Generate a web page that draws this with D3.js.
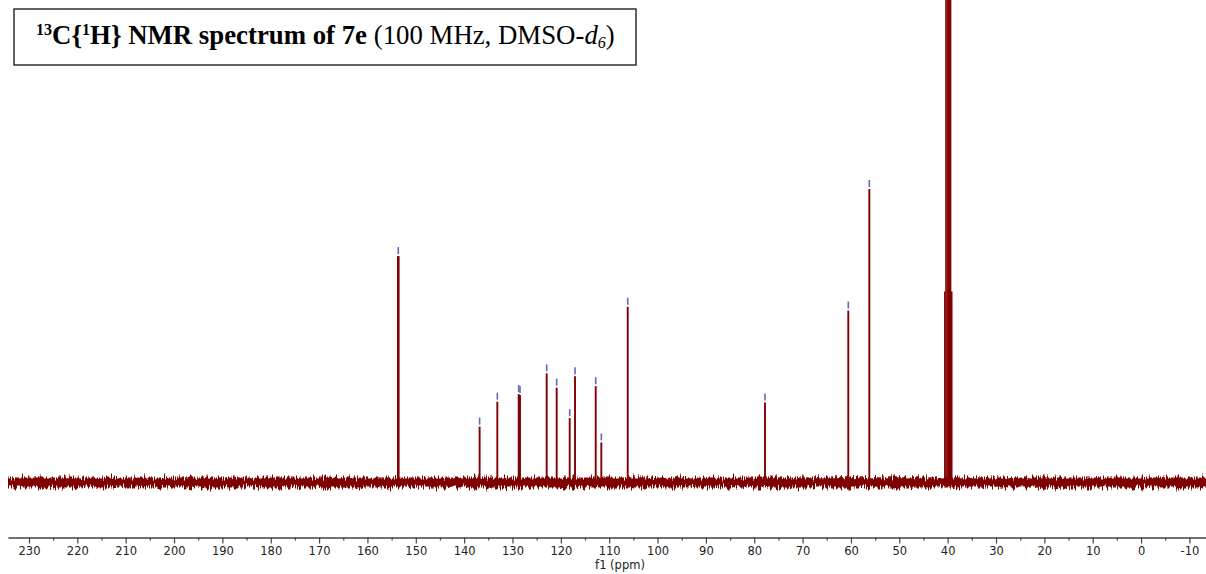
<!DOCTYPE html>
<html>
<head>
<meta charset="utf-8">
<script src="https://cdn.jsdelivr.net/npm/d3@7"></script>
<style>
  html, body { margin: 0; padding: 0; background: #fff; }
  svg { display: block; }
</style>
</head>
<body>
<svg id="chart" width="1206" height="574"></svg>
<script>
// ---- data ----
const peakPpm = [153.62, 136.8, 133.14, 128.72, 128.45, 122.93, 120.86, 118.17, 117.07, 112.79, 111.63, 106.17, 77.78, 60.55, 56.2];
const peakIntensity = [77.1, 18.9, 27.4, 30.0, 29.7, 37.1, 32.2, 21.8, 36.1, 32.7, 13.5, 59.8, 27.1, 58.5, 100];
const solventPpm = [40.59, 40.35, 40.11, 39.87, 39.63, 39.39, 39.15];
const solventIntensity = [65, 195, 390, 455, 390, 195, 65];
const noisePpm = [234.34, 180, 120, 60, 0, -13.43];
const noiseLow = [-1.9, -1.9, -1.9, -1.9, -1.9, -1.9];
const noiseHigh = [1.5, 1.5, 1.5, 1.6, 1.5, 1.5];
const majorTicks = [230, 220, 210, 200, 190, 180, 170, 160, 150, 140, 130, 120, 110, 100, 90, 80, 70, 60, 50, 40, 30, 20, 10, 0, -10];
const minorTicks = [225, 215, 205, 195, 185, 175, 165, 155, 145, 135, 125, 115, 105, 95, 85, 75, 65, 55, 45, 35, 25, 15, 5, -5];
const axisTitle = "f1 (ppm)";

// ---- layout ----
const svg = d3.select("#chart");
const x = d3.scaleLinear().domain([234.34, -13.43]).range([8, 1206]);
const y = d3.scaleLinear().domain([0, 100]).range([482, 189]);
const red = "#800000";
const markerBlue = "#6666c0";

// noise texture filter (styling only)
const defs = svg.append("defs");
const f = defs.append("filter").attr("id", "jag")
  .attr("x", "-1%").attr("y", "-300%").attr("width", "102%").attr("height", "700%")
  .attr("color-interpolation-filters", "sRGB");
f.append("feTurbulence").attr("type", "fractalNoise").attr("baseFrequency", "0.9 0.05")
  .attr("numOctaves", 2).attr("seed", 7).attr("result", "t");
f.append("feColorMatrix").attr("in", "t").attr("type", "matrix")
  .attr("values", "1 0 0 0 0  0 0 0 0 0.5  0 0 0 0 0  0 0 0 0 1").attr("result", "m");
f.append("feDisplacementMap").attr("in", "SourceGraphic").attr("in2", "m")
  .attr("scale", 13).attr("xChannelSelector", "G").attr("yChannelSelector", "R");

// baseline noise band
const noiseData = noisePpm.map((p, i) => ({p, lo: noiseLow[i], hi: noiseHigh[i]}));
svg.append("path")
  .datum(noiseData)
  .attr("d", d3.area().x(d => x(d.p)).y0(d => y(d.lo)).y1(d => y(d.hi)))
  .attr("fill", red)
  .attr("filter", "url(#jag)");

// solvent septet
svg.append("g").selectAll("line")
  .data(solventPpm.map((p, i) => ({p, h: solventIntensity[i]})))
  .join("line")
  .attr("x1", d => x(d.p)).attr("x2", d => x(d.p))
  .attr("y1", y(0) + 3).attr("y2", d => y(d.h))
  .attr("stroke", red).attr("stroke-width", 1.5);

// peaks
const peaks = peakPpm.map((p, i) => ({p, h: peakIntensity[i]}));
svg.append("g").selectAll("line")
  .data(peaks)
  .join("line")
  .attr("x1", d => x(d.p)).attr("x2", d => x(d.p))
  .attr("y1", y(0) + 3).attr("y2", d => y(d.h))
  .attr("stroke", red).attr("stroke-width", d => d.h > 70 && d.h < 90 ? 2.6 : 1.9);

// peak pick markers
svg.append("g").selectAll("line")
  .data(peaks)
  .join("line")
  .attr("x1", d => x(d.p)).attr("x2", d => x(d.p))
  .attr("y1", d => y(d.h) - 9).attr("y2", d => y(d.h) - 2)
  .attr("stroke", markerBlue).attr("stroke-width", 1.6);

// axis
const axisY = 537.5;
const gMinor = svg.append("g").attr("transform", `translate(0,${axisY})`)
  .call(d3.axisBottom(x).tickValues(minorTicks).tickSize(3).tickSizeOuter(0).tickFormat(""));
const gMajor = svg.append("g").attr("transform", `translate(0,${axisY})`)
  .call(d3.axisBottom(x).tickValues(majorTicks).tickSize(6).tickPadding(3).tickSizeOuter(0)
    .tickFormat(d => String(d)));
[gMinor, gMajor].forEach(g => {
  g.select(".domain").attr("stroke", "#444").attr("stroke-width", 1.2);
  g.selectAll(".tick line").attr("stroke", "#444").attr("stroke-width", 1.2);
});
gMajor.selectAll(".tick text")
  .attr("font-family", "'DejaVu Sans', Verdana, sans-serif")
  .attr("font-size", 11.5).attr("fill", "#222");

svg.append("text")
  .attr("x", 620).attr("y", 569)
  .attr("text-anchor", "middle")
  .attr("font-family", "'DejaVu Sans', Verdana, sans-serif")
  .attr("font-size", 11.5).attr("fill", "#222")
  .text(axisTitle);

// title box
svg.append("rect").attr("x", 14).attr("y", 9).attr("width", 622).attr("height", 56)
  .attr("fill", "#fff").attr("stroke", "#111").attr("stroke-width", 1.3);
const title = svg.append("text")
  .attr("x", 36).attr("y", 44)
  .attr("font-family", "'Liberation Serif', 'Times New Roman', serif")
  .attr("font-size", 27).attr("fill", "#000");
const parts = [
  {t: "13", w: "bold", sup: true},
  {t: "C{", w: "bold"},
  {t: "1", w: "bold", sup: true},
  {t: "H} NMR spectrum of 7e", w: "bold"},
  {t: " (100 MHz, DMSO-", w: "normal"},
  {t: "d", w: "normal", it: true},
  {t: "6", w: "normal", it: true, sub: true},
  {t: ")", w: "normal"}
];
let shift = 0;
parts.forEach(pt => {
  const target = pt.sup ? -9 : pt.sub ? 4 : 0;
  const ts = title.append("tspan")
    .attr("font-weight", pt.w)
    .attr("font-style", pt.it ? "italic" : "normal")
    .attr("dy", target - shift)
    .text(pt.t);
  if (pt.sup || pt.sub) ts.attr("font-size", "0.6em");
  shift = target;
});
// fit title to the measured width in the reference
const w = title.node().getComputedTextLength();
title.attr("font-size", 27 * 579 / w);
</script>
</body>
</html>
